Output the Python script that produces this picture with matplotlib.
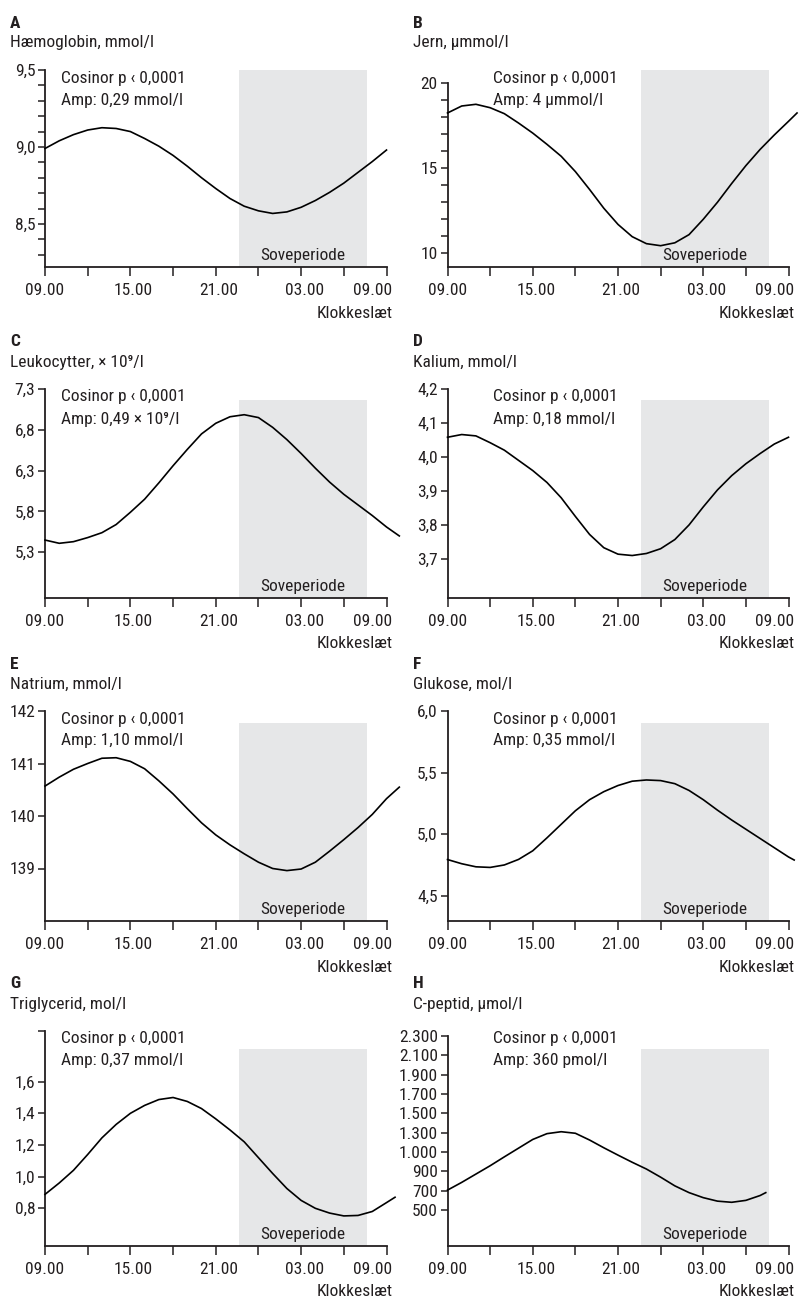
import numpy as np
import matplotlib
matplotlib.use("Agg")
import matplotlib.pyplot as plt
import matplotlib.transforms as mtransforms
from matplotlib import font_manager

# pick a condensed face if one is installed
names = {f.name for f in font_manager.fontManager.ttflist}
cond = [n for n in ['Roboto Condensed', 'Liberation Sans Narrow', 'Open Sans Condensed'] if n in names]
if cond:
    plt.rcParams['font.family'] = [cond[0], 'DejaVu Sans']
    fs = 12.5
else:
    plt.rcParams['font.family'] = ['DejaVu Sans']
    plt.rcParams['font.stretch'] = 'condensed'
    fs = 11.5
plt.rcParams['font.size'] = fs
ink = '#231f20'
shade = '#e6e7e8'

# hours after 09.00
hours = list(range(25))

hb = [8.99, 9.04, 9.08, 9.11, 9.125, 9.12, 9.10, 9.055, 9.005, 8.945, 8.875, 8.80, 8.73,
      8.665, 8.615, 8.585, 8.568, 8.578, 8.608, 8.652, 8.705, 8.765, 8.835, 8.905, 8.98]
jern_h = hours + [24.6]
jern = [18.24, 18.65, 18.75, 18.55, 18.2, 17.65, 17.06, 16.4, 15.7, 14.8, 13.75, 12.65,
        11.7, 10.98, 10.57, 10.45, 10.62, 11.1, 12.0, 13.0, 14.1, 15.15, 16.1, 16.95,
        17.75, 18.24]
leuko_h = hours + [24.9]
leuko = [5.45, 5.41, 5.43, 5.48, 5.54, 5.64, 5.79, 5.95, 6.15, 6.36, 6.56, 6.75, 6.88,
         6.96, 6.985, 6.95, 6.83, 6.68, 6.51, 6.33, 6.16, 6.01, 5.88, 5.75, 5.61, 5.50]
kalium = [4.058, 4.066, 4.062, 4.042, 4.02, 3.99, 3.96, 3.925, 3.88, 3.825, 3.772, 3.733,
          3.714, 3.71, 3.716, 3.73, 3.757, 3.80, 3.853, 3.903, 3.945, 3.98, 4.01, 4.038, 4.058]
natrium_h = hours + [24.9]
natrium = [140.57, 140.74, 140.89, 141.0, 141.10, 141.11, 141.04, 140.9, 140.67, 140.42,
           140.14, 139.87, 139.64, 139.45, 139.28, 139.12, 139.0, 138.96, 138.99, 139.12,
           139.33, 139.55, 139.78, 140.03, 140.33, 140.55]
glukose_h = hours + [24.4]
glukose = [4.794, 4.76, 4.735, 4.73, 4.75, 4.795, 4.865, 4.97, 5.08, 5.19, 5.28, 5.345, 5.395,
           5.43, 5.44, 5.435, 5.41, 5.355, 5.28, 5.195, 5.115, 5.04, 4.965, 4.89, 4.815, 4.79]
trig_h = hours + [24.6]
trig = [0.888, 0.96, 1.04, 1.14, 1.245, 1.33, 1.40, 1.45, 1.487, 1.50, 1.475, 1.43, 1.365,
        1.295, 1.22, 1.12, 1.02, 0.925, 0.85, 0.80, 0.77, 0.752, 0.755, 0.78, 0.836, 0.87]
cpep_h = list(range(23)) + [22.4]
cpep = [706, 786, 872, 929, 975, 1060, 1195, 1285, 1310, 1291, 1186, 1066, 984, 947, 912,
        840, 750, 680, 628, 592, 580, 600, 650, 680]

sleep = (13.6, 22.65)
xticks = [0, 3, 6, 9, 12, 15, 18, 21, 24]
xlabels = ['09.00', '', '15.00', '', '21.00', '', '03.00', '', '09.00']

cpep_levels = [500, 700, 900, 1000, 1300, 1500, 1700, 1900, 2100, 2300]
cpep_labels = ['500', '700', '900', '1.000', '1.300', '1.500', '1.700', '1.900', '2.100', '2.300']

letters = ['A', 'B', 'C', 'D', 'E', 'F', 'G', 'H']
titles = ['Hæmoglobin, mmol/l', 'Jern, μmmol/l', 'Leukocytter, × 10⁹/l', 'Kalium, mmol/l',
          'Natrium, mmol/l', 'Glukose, mol/l', 'Triglycerid, mol/l', 'C-peptid, μmol/l']
amps = ['Amp: 0,29 mmol/l', 'Amp: 4 μmmol/l', 'Amp: 0,49 × 10⁹/l', 'Amp: 0,18 mmol/l',
        'Amp: 1,10 mmol/l', 'Amp: 0,35 mmol/l', 'Amp: 0,37 mmol/l', 'Amp: 360 pmol/l']

W, H = 802, 1298
fig = plt.figure(figsize=(W / 100, H / 100), dpi=100)


def ftext(x, y, s, **kw):
    fig.text(x / W, 1 - y / H, s, color=ink, va='center', **kw)


# C-peptid axis: tick levels are equally spaced
def fwd(v):
    v = np.asarray(v, dtype=float)
    out = np.interp(v, cpep_levels, np.arange(10))
    out = np.where(v < 500, (v - 500) / 200, out)
    return np.where(v > 2300, 9 + (v - 2300) / 200, out)


def inv(i):
    i = np.asarray(i, dtype=float)
    out = np.interp(i, np.arange(10), cpep_levels)
    out = np.where(i < 0, 500 + i * 200, out)
    return np.where(i > 9, 2300 + (i - 9) * 200, out)


# panel: x, y, yticks, ylabels, ylim, layout px (left, right, spine top, bottom, shade top)
panels = [
    (hours, hb, np.round(np.arange(8.3, 9.51, 0.1), 1),
     ['', '', '8,5', '', '', '', '', '9,0', '', '', '', '', '9,5'], (8.22, 9.5), (45, 386.5, 70, 267, 70)),
    (jern_h, jern, list(range(10, 21)),
     ['10', '', '', '', '', '15', '', '', '', '', '20'], (9.2, 20), (447.5, 788.5, 83, 267, 70)),
    (leuko_h, leuko, [5.3, 5.8, 6.3, 6.8, 7.3], ['5,3', '5,8', '6,3', '6,8', '7,3'],
     (4.74, 7.3), (45, 386.5, 389, 598, 400)),
    (hours, kalium, [3.7, 3.8, 3.9, 4.0, 4.1, 4.2], ['3,7', '3,8', '3,9', '4,0', '4,1', '4,2'],
     (3.585, 4.2), (447.5, 788.5, 389, 598, 400)),
    (natrium_h, natrium, [139, 140, 141, 142], ['139', '140', '141', '142'],
     (138.0, 142), (45, 386.5, 711, 921, 722.7)),
    (glukose_h, glukose, [4.5, 5.0, 5.5, 6.0], ['4,5', '5,0', '5,5', '6,0'],
     (4.295, 6.0), (447.5, 788.5, 711, 921, 722.7)),
    (trig_h, trig, [0.8, 1.0, 1.2, 1.4, 1.6, 1.92], ['0,8', '1,0', '1,2', '1,4', '1,6', ''],
     (0.562, 1.92), (45, 386.5, 1031, 1246, 1049)),
    (cpep_h, cpep, cpep_levels, cpep_labels, (128, 2300), (447.5, 788.5, 1036, 1246, 1049)),
]
heads = [70, 70, 389, 389, 711, 711, 1031, 1031]
shift_last = mtransforms.ScaledTranslation(6 / 100, 0, fig.dpi_scale_trans)
shift_mid = mtransforms.ScaledTranslation(3 / 100, 0, fig.dpi_scale_trans)

for k, (xs, ys, yt, yl, ylim, lay) in enumerate(panels):
    x0, x1, top, bot, stop = lay
    ax = fig.add_axes([x0 / W, 1 - bot / H, (x1 - x0) / W, (bot - top) / H])
    if k == 7:
        ax.set_yscale('function', functions=(fwd, inv))
    ax.set_xlim(0, 24)
    ax.set_ylim(*ylim)
    ax.axvspan(sleep[0], sleep[1], ymin=0, ymax=(bot - stop) / (bot - top),
               color=shade, lw=0, zorder=0, clip_on=False)
    ax.plot(xs, ys, color='black', lw=1.2, clip_on=False, zorder=3)
    ax.annotate('Soveperiode', xy=(sum(sleep) / 2, 0), xycoords=ax.get_xaxis_transform(),
                xytext=(0, 8.5), textcoords='offset points', ha='center', va='center',
                color=ink)
    for s in ['top', 'right']:
        ax.spines[s].set_visible(False)
    for s in ['left', 'bottom']:
        ax.spines[s].set_linewidth(1.3)
        ax.spines[s].set_color(ink)
    ax.set_xticks(xticks, xlabels)
    ax.set_yticks(yt, yl)
    ax.minorticks_off()
    ax.tick_params(axis='x', length=6.5, width=1.1, pad=5, colors=ink, labelsize=fs)
    ax.tick_params(axis='y', length=5, width=1.1, pad=2, colors=ink, labelsize=fs)
    ax.patch.set_visible(False)
    tl = ax.get_xticklabels()
    for lab in tl[1:-1]:
        lab.set_transform(lab.get_transform() + shift_mid)
    tl[-1].set_ha('right')
    tl[-1].set_transform(tl[-1].get_transform() + shift_last)

    head = heads[k]
    lx = 10 if x0 < 200 else 413
    ftext(lx, head - 47, letters[k], fontweight='bold')
    ftext(lx, head - 27, titles[k])
    tx = 61 if x0 < 200 else 493
    ftext(tx, head + 8, 'Cosinor p ‹ 0,0001')
    ftext(tx, head + 30, amps[k])
    ftext(x1 + 6.5, bot + 46, 'Klokkeslæt', ha='right')

fig.savefig('out.png', dpi=100)
